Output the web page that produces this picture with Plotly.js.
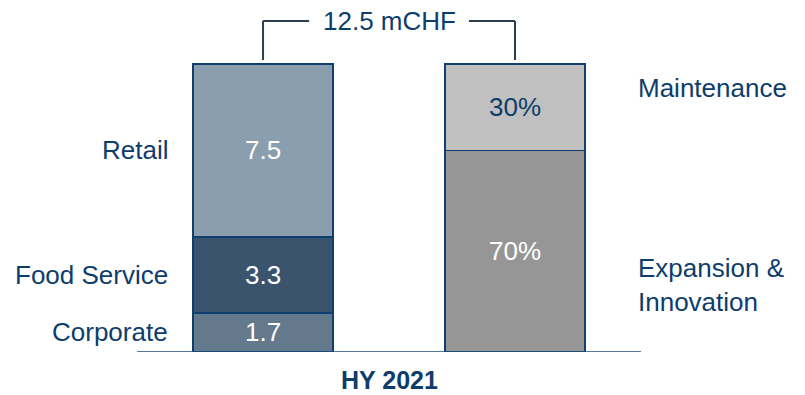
<!DOCTYPE html>
<html>
<head>
<meta charset="utf-8">
<script src="https://cdn.plot.ly/plotly-3.0.1.min.js"></script>
<style>
  html, body { margin: 0; padding: 0; background: #ffffff; }
  #chart { width: 805px; height: 395px; }
</style>
</head>
<body>
<div id="chart"></div>
<script>
// Capex split by business segment (mCHF) and by purpose (% of total)
const period = 'HY 2021';
const unit = 'mCHF';
const segments = ['Corporate', 'Food Service', 'Retail'];
const segmentValues = [1.7, 3.3, 7.5];
const segmentColors = ['#65798c', '#3b546d', '#8b9ead'];
const uses = ['Expansion & Innovation', 'Maintenance'];
const useShares = [70, 30];
const useColors = ['#969696', '#c0c0c0'];
const useTextColors = ['#ffffff', '#0d3d6b'];

const navy = '#0d3d6b';
const font = 'Liberation Sans, Arial, sans-serif';
const FS = 26;

const total = segmentValues.reduce((a, b) => a + b, 0);
const yTop = total * 352 / 288;          // head-room above the bars for the bracket
const barWidth = 0.556;

const traces = [];
segments.forEach((name, i) => {
  traces.push({
    type: 'bar', name: name, x: [0], y: [segmentValues[i]],
    width: barWidth, xaxis: 'x', yaxis: 'y',
    marker: { color: segmentColors[i], line: { color: '#0e3f6e', width: 1.5 } },
    text: [segmentValues[i].toFixed(1)], textposition: 'inside',
    insidetextanchor: 'middle', textangle: 0,
    textfont: { family: font, size: FS, color: '#ffffff' },
    hoverinfo: 'skip', showlegend: false
  });
});
uses.forEach((name, i) => {
  traces.push({
    type: 'bar', name: name, x: [1], y: [useShares[i]],
    width: barWidth, xaxis: 'x', yaxis: 'y2',
    marker: { color: useColors[i], line: { color: '#0e3f6e', width: 1.5 } },
    text: [useShares[i] + '%'], textposition: 'inside',
    insidetextanchor: 'middle', textangle: 0,
    textfont: { family: font, size: FS, color: useTextColors[i] },
    hoverinfo: 'skip', showlegend: false
  });
});

// labels beside the bars
const annotations = [];
let cum = 0;
segments.forEach((name, i) => {
  const mid = cum + segmentValues[i] / 2;
  cum += segmentValues[i];
  annotations.push({
    text: name, x: -0.37, xref: 'x', y: mid, yref: 'y',
    xanchor: 'right', yanchor: 'middle', showarrow: false,
    font: { family: font, size: FS, color: navy }
  });
});
const useLabelY = [23.3, 91.7];
uses.forEach((name, i) => {
  annotations.push({
    text: name.replace(' & ', ' &<br>'), x: 1.48, xref: 'x', y: useLabelY[i], yref: 'y2',
    xanchor: 'left', yanchor: 'middle', align: 'left', showarrow: false,
    font: { family: font, size: FS, color: navy }
  });
});
const bracketY = total + 1.87;
const bracketFoot = total + 0.17;
annotations.push({
  text: total.toFixed(1) + ' ' + unit, x: 0.5, xref: 'x', y: bracketY, yref: 'y',
  xanchor: 'center', yanchor: 'middle', showarrow: false,
  font: { family: font, size: FS, color: navy }
});
annotations.push({
  text: '<b>' + period + '</b>', x: 0.5, xref: 'x', y: -0.08, yref: 'paper',
  xanchor: 'center', yanchor: 'middle', showarrow: false,
  font: { family: font, size: 25, color: navy }
});

const bracketColor = '#2c3e50';
const shapes = [
  { type: 'line', xref: 'x', yref: 'y', x0: 0, x1: 0, y0: bracketFoot, y1: bracketY, line: { color: bracketColor, width: 2 } },
  { type: 'line', xref: 'x', yref: 'y', x0: 0, x1: 0.183, y0: bracketY, y1: bracketY, line: { color: bracketColor, width: 2 } },
  { type: 'line', xref: 'x', yref: 'y', x0: 0.817, x1: 1, y0: bracketY, y1: bracketY, line: { color: bracketColor, width: 2 } },
  { type: 'line', xref: 'x', yref: 'y', x0: 1, x1: 1, y0: bracketFoot, y1: bracketY, line: { color: bracketColor, width: 2 } },
  { type: 'line', xref: 'x', yref: 'y', x0: -0.5, x1: 1.5, y0: 0, y1: 0, line: { color: '#1f4e79', width: 1.5 } }
];

const layout = {
  width: 805, height: 395,
  margin: { l: 0, r: 0, t: 0, b: 43 },
  paper_bgcolor: '#ffffff', plot_bgcolor: '#ffffff',
  barmode: 'stack', bargap: 0,
  uniformtext: { mode: 'show', minsize: FS },
  xaxis: { range: [-1.044, 2.151], visible: false, fixedrange: true },
  yaxis: { range: [0, yTop], visible: false, fixedrange: true },
  yaxis2: { range: [0, 100 * yTop / total], overlaying: 'y', visible: false, fixedrange: true },
  annotations: annotations,
  shapes: shapes,
  showlegend: false
};

Plotly.newPlot('chart', traces, layout, { displayModeBar: false, staticPlot: true });
</script>
</body>
</html>
